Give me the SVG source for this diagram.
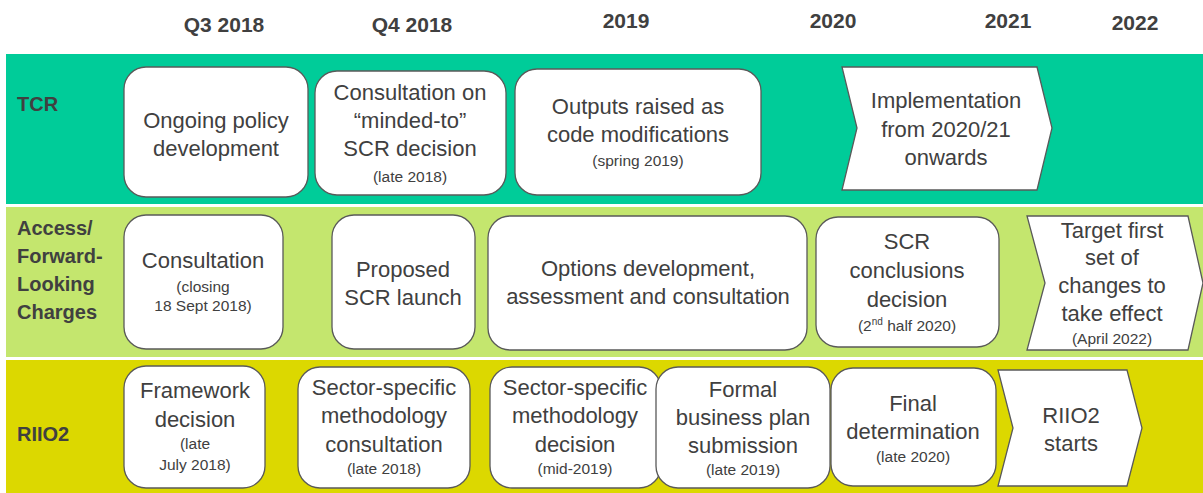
<svg xmlns="http://www.w3.org/2000/svg" width="1203" height="493" viewBox="0 0 1203 493">
<style>
.hd{font-family:"Liberation Sans",Arial,sans-serif;font-weight:bold;font-size:21px;fill:#404040;text-anchor:middle}
.lb{font-family:"Liberation Sans",Arial,sans-serif;font-weight:bold;font-size:20px;fill:#404040}
.box{fill:#fff;stroke:#595959;stroke-width:1.3}
.t{font-family:"Liberation Sans",Arial,sans-serif;font-size:22px;fill:#404040;text-anchor:middle}
.s{font-family:"Liberation Sans",Arial,sans-serif;font-size:15.5px;fill:#404040;text-anchor:middle}
</style>
<rect width="1203" height="493" fill="#fff"/>
<g id="header">
<text class="hd" x="224" y="32">Q3 2018</text>
<text class="hd" x="412" y="32">Q4 2018</text>
<text class="hd" x="626" y="28">2019</text>
<text class="hd" x="833" y="28">2020</text>
<text class="hd" x="1008" y="28">2021</text>
<text class="hd" x="1135" y="30">2022</text>
</g>
<g id="bands">
<rect x="6" y="54" width="1197" height="150" fill="#00CC99"/>
<rect x="6" y="207" width="1197" height="150" fill="#C4E66E"/>
<rect x="6" y="360" width="1197" height="133" fill="#DCD800"/>
<text class="lb" x="17" y="111">TCR</text>
<text class="lb" x="17" y="235">Access/</text>
<text class="lb" x="17" y="263">Forward-</text>
<text class="lb" x="17" y="291">Looking</text>
<text class="lb" x="17" y="319">Charges</text>
<text class="lb" x="17" y="441">RIIO2</text>
</g>
<g id="connectors"></g>
<g id="tcr1"><rect class="box" x="124" y="67" width="184" height="130" rx="22"/>
<text class="t" x="216" y="128">Ongoing policy</text><text class="t" x="216" y="156">development</text></g>
<g id="tcr2"><rect class="box" x="315" y="71" width="191" height="124" rx="22"/>
<text class="t" x="410" y="100">Consultation on</text><text class="t" x="410" y="128">“minded-to”</text><text class="t" x="410" y="156">SCR decision</text><text class="s" x="410" y="182">(late 2018)</text></g>
<g id="tcr3"><rect class="box" x="515" y="69" width="246" height="126" rx="22"/>
<text class="t" x="638" y="114">Outputs raised as</text><text class="t" x="638" y="142">code modifications</text><text class="s" x="638" y="166">(spring 2019)</text></g>
<g id="tcr4"><polygon class="box" points="842,67 1037,67 1052,128 1037,190 842,190 857,128"/>
<text class="t" x="946" y="108">Implementation</text><text class="t" x="946" y="137">from 2020/21</text><text class="t" x="946" y="165">onwards</text></g>
<g id="acc1"><rect class="box" x="124" y="215" width="159" height="134" rx="22"/>
<text class="t" x="203" y="268">Consultation</text><text class="s" x="203" y="292">(closing</text><text class="s" x="203" y="311">18 Sept 2018)</text></g>
<g id="acc2"><rect class="box" x="332" y="215" width="143" height="134" rx="22"/>
<text class="t" x="403" y="277">Proposed</text><text class="t" x="403" y="305">SCR launch</text></g>
<g id="acc3"><rect class="box" x="488" y="216" width="319" height="134" rx="22"/>
<text class="t" x="648" y="276">Options development,</text><text class="t" x="648" y="304">assessment and consultation</text></g>
<g id="acc4"><rect class="box" x="816" y="217" width="183" height="130" rx="22"/>
<text class="t" x="907" y="249">SCR</text><text class="t" x="907" y="278">conclusions</text><text class="t" x="907" y="307">decision</text><text class="s" x="907" y="331">(2<tspan font-size="10" dy="-6">nd</tspan><tspan dy="6"> half 2020)</tspan></text></g>
<g id="acc5"><polygon class="box" points="1027,216 1188,216 1203,283 1188,350 1027,350 1045,283"/>
<text class="t" x="1112" y="238">Target first</text><text class="t" x="1112" y="265">set of</text><text class="t" x="1112" y="293">changes to</text><text class="t" x="1112" y="321">take effect</text><text class="s" x="1112" y="344">(April 2022)</text></g>
<g id="riio1"><rect class="box" x="124" y="366" width="141" height="122" rx="22"/>
<text class="t" x="195" y="398">Framework</text><text class="t" x="195" y="427">decision</text><text class="s" x="195" y="449">(late</text><text class="s" x="195" y="470">July 2018)</text></g>
<g id="riio2"><rect class="box" x="298" y="367" width="172" height="121" rx="22"/>
<text class="t" x="384" y="395">Sector-specific</text><text class="t" x="384" y="423">methodology</text><text class="t" x="384" y="452">consultation</text><text class="s" x="384" y="474">(late 2018)</text></g>
<g id="riio3"><rect class="box" x="490" y="367" width="171" height="121" rx="22"/>
<text class="t" x="575" y="395">Sector-specific</text><text class="t" x="575" y="423">methodology</text><text class="t" x="575" y="452">decision</text><text class="s" x="575" y="474">(mid-2019)</text></g>
<g id="riio4"><rect class="box" x="656" y="367" width="174" height="121" rx="22"/>
<text class="t" x="743" y="397">Formal</text><text class="t" x="743" y="425">business plan</text><text class="t" x="743" y="453">submission</text><text class="s" x="743" y="475">(late 2019)</text></g>
<g id="riio5"><rect class="box" x="831" y="368" width="165" height="118" rx="22"/>
<text class="t" x="913" y="411">Final</text><text class="t" x="913" y="439">determination</text><text class="s" x="913" y="462">(late 2020)</text></g>
<g id="riio6"><polygon class="box" points="998,370 1127,370 1142,428 1127,486 998,486 1013,428"/>
<text class="t" x="1071" y="423">RIIO2</text><text class="t" x="1071" y="451">starts</text></g>
</svg>
